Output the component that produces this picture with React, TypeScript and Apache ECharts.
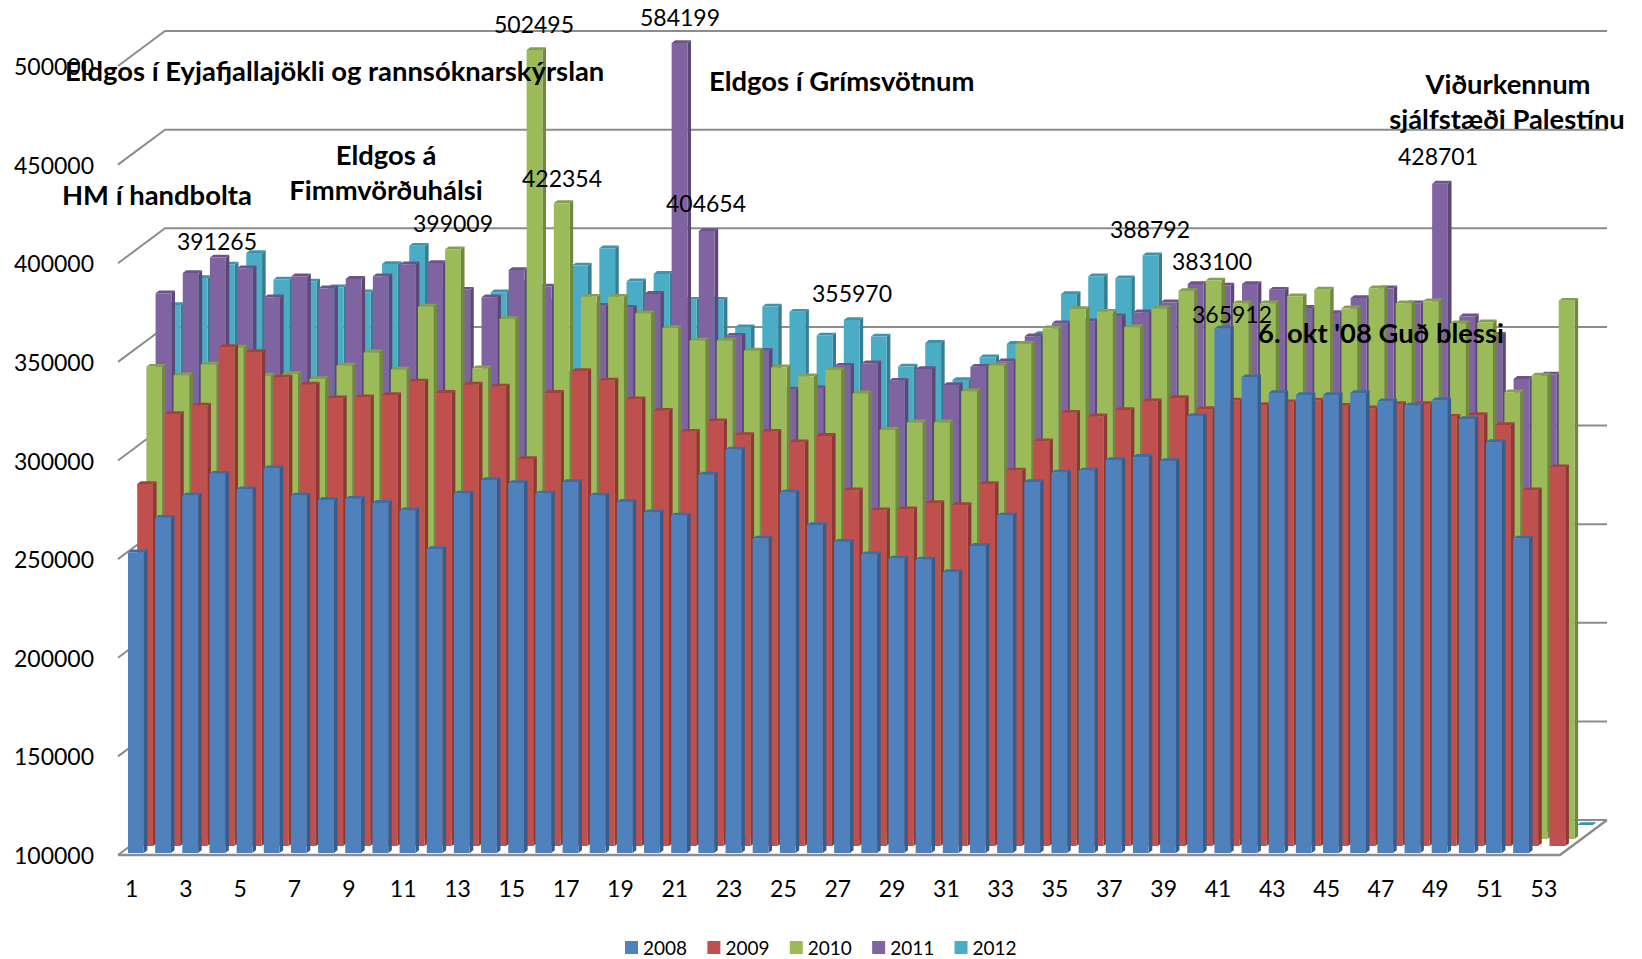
import React, { useEffect, useRef } from "react";
import * as echarts from "echarts";

const weeks = Array.from({ length: 53 }, (_, i) => String(i + 1));
const yearNames = ["2008", "2009", "2010", "2011", "2012"];
const yTicks = [100000, 150000, 200000, 250000, 300000, 350000, 400000, 450000, 500000];

const v2008 = [252500, 270000, 281200, 292300, 284400, 295000, 281200, 279000, 279600, 277500, 273700, 254100, 282200, 289100, 287500, 282200, 288100, 281200, 278000, 272700, 271100, 291800, 304500, 259400, 282800, 266300, 257800, 251400, 249300, 248800, 242400, 255700, 271100, 288100, 292900, 293900, 299200, 300800, 298700, 321500, 365912, 341200, 333200, 332200, 332200, 333200, 329000, 326900, 329500, 320000, 308300, 259400, null];
const v2009 = [283500, 319000, 323300, 353000, 350400, 337600, 333900, 327000, 327500, 328600, 335500, 329700, 333900, 332900, 296200, 329700, 340800, 336000, 326500, 320600, 310000, 315300, 308400, 310000, 304700, 307900, 280300, 270200, 270700, 273900, 272900, 283500, 290400, 305200, 319600, 317800, 321000, 325400, 327100, 321500, 325800, 323600, 324900, 325800, 323200, 321900, 324100, 324100, 317600, 318500, 313400, 280300, 292000];
const v2010 = [339400, 335100, 340500, 349200, 334900, 335700, 333200, 340000, 346700, 338000, 369900, 399009, 338600, 363600, 502495, 422354, 374900, 374900, 366500, 359100, 352700, 352700, 347600, 339100, 334600, 337800, 325900, 307400, 311200, 311200, 327000, 340000, 351000, 358900, 368700, 367300, 359400, 369000, 377800, 383100, 371600, 371600, 375100, 378500, 369000, 379200, 371600, 372600, 361400, 361900, 326500, 334900, 372900];
const v2011 = [373100, 383400, 391265, 385800, 371100, 381700, 375600, 380400, 381700, 387800, 388500, 374900, 371100, 384900, 376500, 332000, 366800, 365800, 372800, 584199, 404654, 351600, 344000, 324300, 325100, 336400, 337600, 328800, 334700, 326600, 335900, 338600, 351300, 357900, 358900, 361400, 363500, 368500, 377800, 377000, 377800, 374900, 365700, 363100, 370700, 375600, 368000, 428701, 361400, 352100, 329700, 331900, null];
const v2012 = [363600, 377300, 384100, 390000, 376500, 375500, 372600, 370100, 384400, 393700, 370000, 325000, 370100, 375000, 365000, 383600, 392400, 375600, 379400, 366300, 366300, 352300, 362900, 360200, 348100, 355970, 347600, 332400, 344400, 325600, 337100, 343900, 348900, 369200, 378200, 377200, 388792, 100000, 100000, 100000, 100000, 100000, 100000, 100000, 100000, 100000, 100000, 100000, 100000, 100000, 100000, 100000, 100000];

const seriesValues = [v2008, v2009, v2010, v2011, v2012];
const frontColors = ["#4F81BD", "#C0504D", "#9BBB59", "#8064A2", "#4BACC6"];
const sideColors = ["#385D8A", "#8C3836", "#71893F", "#5C4776", "#357D91"];
const topColors = ["#3F6CA3", "#A34341", "#84A04A", "#6C5489", "#3F93AA"];

const LABEL_FONT = "Lato";
const DEPTH_X = 47;
const DEPTH_Y = 35;
const SLOT_X = 9.2;
const SLOT_Y = 7;

function makeBar(slot: number) {
  return (params: any, api: any) => {
    const raw = api.value(1);
    if (raw == null || isNaN(raw)) return null;
    const top = api.coord([api.value(0), Math.min(raw, 500000)]);
    const base = api.coord([api.value(0), 100000]);
    const w = 15.8;
    const sx = 3.6;
    const sy = 2.8;
    const l = top[0] - 3.6 + slot * SLOT_X;
    const t = top[1] - 2 - slot * SLOT_Y;
    const b = base[1] - 2 - slot * SLOT_Y;
    const poly = (points: number[][], fill: string) => ({
      type: "polygon",
      shape: { points },
      style: { fill, stroke: null },
      silent: true,
    });
    return {
      type: "group",
      children: [
        poly([[l + w, t], [l + w + sx, t - sy], [l + w + sx, b - sy], [l + w, b]], sideColors[slot]),
        poly([[l, t], [l + w, t], [l + w + sx, t - sy], [l + sx, t - sy]], topColors[slot]),
        poly([[l, t], [l + w, t], [l + w, b], [l, b]], frontColors[slot]),
      ],
    };
  };
}

function renderWall(params: any, api: any) {
  const v = api.value(0);
  const y = api.coord([0, v])[1];
  const cs = params.coordSys;
  const x0 = cs.x;
  const x1 = cs.x + DEPTH_X;
  const x2 = cs.x + cs.width + 2.5 + DEPTH_X;
  const style = { stroke: "#8C8C8C", lineWidth: 2, fill: null };
  const children: any[] = [
    { type: "polyline", shape: { points: [[x0, y], [x1, y - DEPTH_Y], [x2, y - DEPTH_Y]] }, style, silent: true },
  ];
  if (v === 100000) {
    children.push({
      type: "polyline",
      shape: { points: [[x0, y], [x2 - DEPTH_X, y], [x2, y - DEPTH_Y]] },
      style: { ...style, lineWidth: 2.5 },
      silent: true,
    });
  }
  return { type: "group", children };
}

export default function App() {
  const ref = useRef<HTMLDivElement>(null);
  useEffect(() => {
    document.body.style.margin = "0";
    const chart = echarts.init(ref.current!, null, { renderer: "svg" });
    const plain = (text: string, x: number, y: number) => ({
      type: "text",
      x,
      y,
      z: 100,
      silent: true,
      style: { text, fill: "#000", font: `23px ${LABEL_FONT}`, align: "center", verticalAlign: "middle" },
    });
    const bold = (text: string, x: number, y: number, align = "center") => ({
      type: "text",
      x,
      y,
      z: 101,
      silent: true,
      style: { text, fill: "#000", font: `bold 27.4px ${LABEL_FONT}`, align, verticalAlign: "middle" },
    });
    chart.setOption({
      animation: false,
      backgroundColor: "#fff",
      grid: { left: 118, top: 66, width: 1439.5, height: 789, containLabel: false },
      xAxis: {
        type: "category",
        data: weeks,
        axisLine: { show: false },
        axisTick: { show: false },
        splitLine: { show: false },
        axisLabel: { interval: 1, margin: 21, color: "#000", fontFamily: LABEL_FONT, fontSize: 23 },
      },
      yAxis: {
        type: "value",
        min: 100000,
        max: 500000,
        interval: 50000,
        axisLine: { show: false },
        axisTick: { show: false },
        splitLine: { show: false },
        axisLabel: {
          margin: 24,
          color: "#000",
          fontFamily: LABEL_FONT,
          fontSize: 23,
          formatter: (v: number) => String(v),
        },
      },
      legend: {
        data: yearNames,
        left: 620,
        top: 933,
        icon: "rect",
        itemWidth: 13,
        itemHeight: 13,
        itemGap: 20.3,
        selectedMode: false,
        textStyle: { color: "#000", fontFamily: LABEL_FONT, fontSize: 19 },
      },
      series: [
        {
          type: "custom",
          name: "wall",
          z: 1,
          silent: true,
          clip: false,
          data: yTicks.map((t) => [t]),
          encode: { y: 0 },
          renderItem: renderWall,
        },
        ...seriesValues.map((vals, slot) => ({
          type: "custom",
          name: yearNames[slot],
          z: 10 - slot,
          silent: true,
          clip: false,
          itemStyle: { color: frontColors[slot] },
          data: vals.map((v, i) => [i, v]),
          encode: { x: 0, y: 1 },
          renderItem: makeBar(slot),
        })),
      ],
      graphic: [
        plain("502495", 534, 24),
        plain("584199", 680, 17),
        plain("391265", 217, 241),
        plain("399009", 453, 223),
        plain("422354", 562, 178),
        plain("404654", 706, 203),
        plain("355970", 852, 293),
        plain("388792", 1150, 229),
        plain("383100", 1212, 261),
        plain("365912", 1232, 314),
        plain("428701", 1438, 156),
        bold("Eldgos í Eyjafjallajökli og rannsóknarskýrslan", 65, 70, "left"),
        bold("Eldgos í Grímsvötnum", 709, 80, "left"),
        bold("HM í handbolta", 62, 194, "left"),
        bold("Eldgos á", 386, 154),
        bold("Fimmvörðuhálsi", 386, 189),
        bold("6. okt '08 Guð blessi", 1258, 332, "left"),
        bold("Viðurkennum", 1508, 83),
        bold("sjálfstæði Palestínu", 1507, 118),
      ],
    });
    return () => chart.dispose();
  }, []);
  return <div ref={ref} style={{ width: 1642, height: 959 }} />;
}
